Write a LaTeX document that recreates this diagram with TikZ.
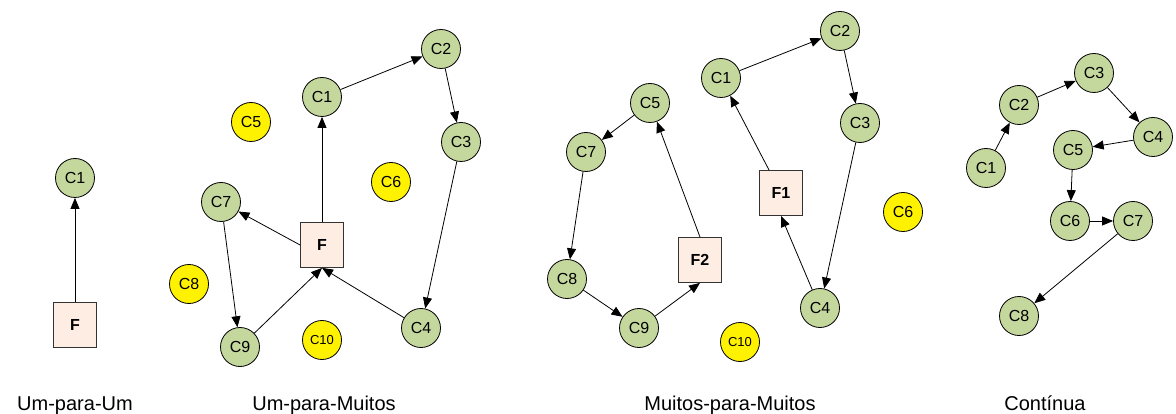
\documentclass[tikz,border=0pt]{standalone}
\usepackage{fontspec}
\setmainfont{Liberation Sans}
\usepackage{xcolor}
\usetikzlibrary{positioning, arrows.meta}

\definecolor{cligreen}{HTML}{C4D79D}
\definecolor{fornfill}{HTML}{FDEDE3}

\begin{document}
\begin{tikzpicture}[
    x=1pt, y=-1pt,
    font=\fontsize{16}{19}\selectfont,
    cli/.style={
        circle,
        draw=black,
        fill=cligreen,
        line width=0.8pt,
        minimum size=39pt,
        inner sep=0pt
    },
    idle/.style={cli, fill=yellow},
    forn/.style={
        rectangle,
        draw=black!80,
        fill=fornfill,
        line width=0.8pt,
        minimum width=43pt,
        minimum height=45pt,
        font=\fontsize{16}{19}\selectfont\bfseries
    },
    msg/.style={-{Triangle[length=11pt, width=9pt]}, line width=0.8pt},
    legend/.style={anchor=base, font=\fontsize{20}{24}\selectfont}
]
\useasboundingbox (0,0) rectangle (1176,414);

% Um-para-Um
\node[cli]  (um1) at (75, 178) {C1};
\node[forn] (umF) at (75, 325) {F};
\draw[msg] (umF) -- (um1);
\node[legend] (umL) at (75, 410) {Um-para-Um};

% Um-para-Muitos
\node[forn] (muF)  at (322, 245) {F};
\node[cli]  (mu1)  at (322, 97)  {C1};
\node[cli]  (mu2)  at (441, 49)  {C2};
\node[cli]  (mu3)  at (461, 142) {C3};
\node[cli]  (mu4)  at (421, 328) {C4};
\node[idle] (mu5)  at (251, 122) {C5};
\node[idle] (mu6)  at (391, 182) {C6};
\node[cli]  (mu7)  at (221, 202) {C7};
\node[idle] (mu8)  at (189, 284) {C8};
\node[cli]  (mu9)  at (240, 347) {C9};
\node[idle, font=\fontsize{13}{16}\selectfont] (mu10) at (322, 340) {C10};

\draw[msg] (muF) -- (mu1);
\draw[msg] (mu1) -- (mu2);
\draw[msg] (mu2) -- (mu3);
\draw[msg] (mu3) -- (mu4);
\draw[msg] (mu4) -- (muF.south);
\draw[msg] (muF.west) -- (mu7);
\draw[msg] (mu7) -- (mu9);
\draw[msg] (mu9) -- (muF.south);
\node[legend] (muL) at (324, 410) {Um-para-Muitos};

% Muitos-para-Muitos
\node[forn] (mmF1) at (781, 193) {F1};
\node[forn] (mmF2) at (700, 260) {F2};
\node[cli]  (mm1)  at (721, 78)  {C1};
\node[cli]  (mm2)  at (840, 31)  {C2};
\node[cli]  (mm3)  at (860, 123) {C3};
\node[cli]  (mm4)  at (820, 308) {C4};
\node[cli]  (mm5)  at (650, 103) {C5};
\node[idle] (mm6)  at (903, 212) {C6};
\node[cli]  (mm7)  at (586, 152) {C7};
\node[cli]  (mm8)  at (567, 279) {C8};
\node[cli]  (mm9)  at (639, 328) {C9};
\node[idle, font=\fontsize{13}{16}\selectfont] (mm10) at (740, 342) {C10};

\draw[msg] (mmF1) -- (mm1);
\draw[msg] (mm1) -- (mm2);
\draw[msg] (mm2) -- (mm3);
\draw[msg] (mm3) -- (mm4);
\draw[msg] (mm4) -- (mmF1.south);
\draw[msg] (mmF2.north) -- (mm5);
\draw[msg] (mm5) -- (mm7);
\draw[msg] (mm7) -- (mm8);
\draw[msg] (mm8) -- (mm9);
\draw[msg] (mm9) -- (mmF2.south);
\node[legend] (mmL) at (730, 410) {Muitos-para-Muitos};

% Contínua
\node[cli] (ct1) at (986, 168)  {C1};
\node[cli] (ct2) at (1019, 105) {C2};
\node[cli] (ct3) at (1094, 73)  {C3};
\node[cli] (ct4) at (1153, 137) {C4};
\node[cli] (ct5) at (1073, 150) {C5};
\node[cli] (ct6) at (1070, 221) {C6};
\node[cli] (ct7) at (1133, 221) {C7};
\node[cli] (ct8) at (1019, 316) {C8};

\foreach \a/\b in {1/2, 2/3, 3/4, 4/5, 5/6, 6/7, 7/8}
    \draw[msg] (ct\a) -- (ct\b);
\node[legend] (ctL) at (1045, 410) {Contínua};

\end{tikzpicture}
\end{document}
